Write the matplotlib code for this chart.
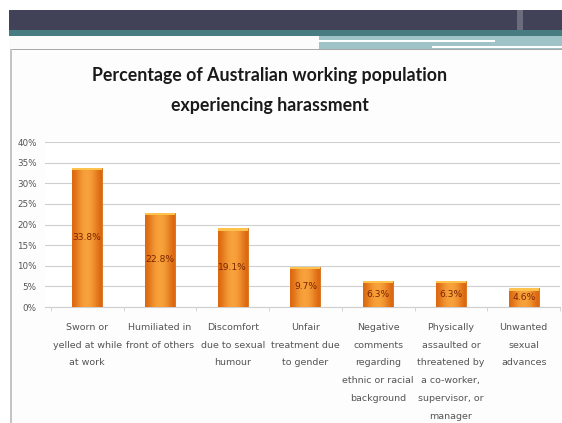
import numpy as np
import matplotlib.pyplot as plt
from matplotlib.patches import Rectangle
from matplotlib.colors import LinearSegmentedColormap

# data
categories = [
    "Sworn or\nyelled at while\nat work",
    "Humiliated in\nfront of others",
    "Discomfort\ndue to sexual\nhumour",
    "Unfair\ntreatment due\nto gender",
    "Negative\ncomments\nregarding\nethnic or racial\nbackground",
    "Physically\nassaulted or\nthreatened by\na co-worker,\nsupervisor, or\nmanager",
    "Unwanted\nsexual\nadvances",
]
values = [33.8, 22.8, 19.1, 9.7, 6.3, 6.3, 4.6]
value_labels = ["33.8%", "22.8%", "19.1%", "9.7%", "6.3%", "6.3%", "4.6%"]
yticks = [0, 5, 10, 15, 20, 25, 30, 35, 40]

W, H = 562, 423
fig = plt.figure(figsize=(W / 100, H / 100), dpi=100)
fig.patch.set_facecolor("white")

def box(x, y, w, h, color):
    # rectangle in pixel coords (y from top), kept behind the axes
    fig.patches.append(Rectangle((x / W, 1 - (y + h) / H), w / W, h / H,
                                 transform=fig.transFigure, facecolor=color,
                                 edgecolor="none", zorder=-5))

# slide header bands
box(9, 10, 553, 20, "#414257")
box(517, 10, 6, 20, "#6b6c7e")
box(9, 30, 553, 6, "#467c82")
box(9, 36, 553, 13, "#9fc3c6")
box(9, 36, 310, 13, "#fbfbfb")
box(319, 40.5, 176, 1.2, "white")
box(432, 46.5, 130, 1.2, "white")
# chart frame
box(10, 49, 552, 374, "#fdfdfd")
box(10, 49, 552, 1.5, "#a8a8a8")
box(10, 49, 2, 374, "#c4c4c4")

fig.text(0.48, 1 - 75 / H, "Percentage of Australian working population",
         ha="center", va="center", fontsize=12.8, fontweight="bold",
         family="Lato", color="#1a1a1a")
fig.text(0.48, 1 - 106 / H, "experiencing harassment",
         ha="center", va="center", fontsize=12.8, fontweight="bold",
         family="Lato", color="#1a1a1a")

ax = fig.add_axes([45 / W, 1 - 307 / H, 515 / W, 165 / H])
ax.set_facecolor("white")
x = np.arange(len(values))
bars = ax.bar(x, values, width=0.41, color="#f08a22", edgecolor="#d26c16",
              linewidth=0.6, zorder=3)

# horizontal shading to mimic the glossy bars
shade = LinearSegmentedColormap.from_list("o", ["#dc6810", "#f9a53e"])
grad = np.array([[0.0, 0.5, 0.85, 1.0, 0.85, 0.5, 0.0]])
for b in bars:
    bx, bw, bh = b.get_x(), b.get_width(), b.get_height()
    im = ax.imshow(grad, cmap=shade, extent=[bx, bx + bw, 0, bh],
                   aspect="auto", zorder=3.5, interpolation="bicubic")
    im.set_clip_path(b)
    ax.add_patch(Rectangle((bx, bh - 0.6), bw, 0.6, facecolor="#ffc24c",
                           edgecolor="none", zorder=4))

for xi, v, lab in zip(x, values, value_labels):
    ax.text(xi, v / 2, lab, ha="center", va="center", fontsize=6.6,
            color="#7a2400", zorder=5)

ax.set_xlim(-0.58, len(values) - 0.51)
ax.set_ylim(0, 40)
ax.set_yticks(yticks)
ax.set_yticklabels([f"{t}%" for t in yticks], fontsize=6.3, color="#555555")
ax.set_xticks(x)
ax.set_xticklabels(categories, fontsize=6.8, color="#555555", linespacing=2.25)
ax.set_xticks(np.arange(-0.5, len(values), 1.0), minor=True)
ax.tick_params(axis="x", which="major", length=0, pad=11.5)
ax.tick_params(axis="x", which="minor", length=3, color="#cfcfcf")
ax.tick_params(axis="y", length=0, pad=6)
ax.yaxis.grid(True, color="#cfcfcf", linewidth=0.8, zorder=0)
for s in ["top", "right", "left"]:
    ax.spines[s].set_visible(False)
ax.spines["bottom"].set_color("#cfcfcf")

fig.savefig("out.png", dpi=100)
